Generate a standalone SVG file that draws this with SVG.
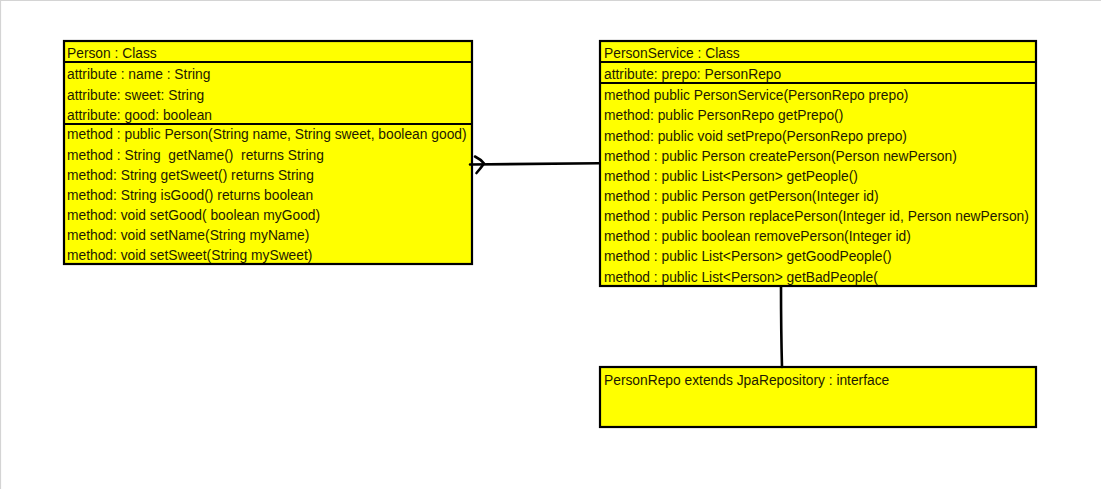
<svg xmlns="http://www.w3.org/2000/svg" width="1101" height="489" viewBox="0 0 1101 489">
<style>
.box{fill:#ffff00;stroke:#000;stroke-width:2.2}
.sep{stroke:#000;stroke-width:2.2}
.t{font-family:"Liberation Sans",Arial,sans-serif;font-size:13.8px;fill:#1e1a00}
.conn{fill:none;stroke:#000;stroke-width:2.6;stroke-linecap:round;stroke-linejoin:round}
</style>
<rect x="0" y="0" width="1101" height="489" fill="#fff"/>
<path d="M0.5 489V0.5H1101" fill="none" stroke="#d4d4d4" stroke-width="1.2"/>
<g id="person">
<rect class="box" x="64" y="41" width="408" height="223"/>
<line class="sep" x1="64" y1="62" x2="472" y2="62"/>
<line class="sep" x1="64" y1="124" x2="472" y2="124"/>
<text class="t" x="67" y="57.5">Person : Class</text>
<text class="t" x="67" y="78.5">attribute : name : String</text>
<text class="t" x="67" y="99.5">attribute: sweet: String</text>
<text class="t" x="67" y="119.5">attribute: good: boolean</text>
<text class="t" x="67" y="138.5">method : public Person(String name, String sweet, boolean good)</text>
<text class="t" x="67" y="159.5" xml:space="preserve">method : String  getName()  returns String</text>
<text class="t" x="67" y="179.5">method: String getSweet() returns String</text>
<text class="t" x="67" y="199.5">method: String isGood() returns boolean</text>
<text class="t" x="67" y="219.5">method: void setGood( boolean myGood)</text>
<text class="t" x="67" y="239.5">method: void setName(String myName)</text>
<text class="t" x="67" y="259.5">method: void setSweet(String mySweet)</text>
</g>
<g id="personService">
<rect class="box" x="600" y="41" width="436" height="245"/>
<line class="sep" x1="600" y1="62" x2="1036" y2="62"/>
<line class="sep" x1="600" y1="83" x2="1036" y2="83"/>
<text class="t" x="604" y="57.5">PersonService : Class</text>
<text class="t" x="604" y="78.5">attribute: prepo: PersonRepo</text>
<text class="t" x="604" y="99.5">method public PersonService(PersonRepo prepo)</text>
<text class="t" x="604" y="119.5">method: public PersonRepo getPrepo()</text>
<text class="t" x="604" y="140.5">method: public void setPrepo(PersonRepo prepo)</text>
<text class="t" x="604" y="160.5">method : public Person createPerson(Person newPerson)</text>
<text class="t" x="604" y="180.5">method : public List&lt;Person&gt; getPeople()</text>
<text class="t" x="604" y="200.5">method : public Person getPerson(Integer id)</text>
<text class="t" x="604" y="220.5">method : public Person replacePerson(Integer id, Person newPerson)</text>
<text class="t" x="604" y="240.5">method : public boolean removePerson(Integer id)</text>
<text class="t" x="604" y="260.5">method : public List&lt;Person&gt; getGoodPeople()</text>
<text class="t" x="604" y="281.5">method : public List&lt;Person&gt; getBadPeople(</text>
</g>
<g id="personRepo">
<rect class="box" x="600" y="367" width="436" height="60"/>
<text class="t" x="604" y="384.5">PersonRepo extends JpaRepository : interface</text>
</g>
<g id="connectors">
<path class="conn" d="M470 164.5 Q530 164 599 163.3"/>
<path class="conn" d="M475 156.5 Q481 159.5 484 163.5 Q480.5 168.5 476.5 173"/>
<path class="conn" d="M781 287 Q781 330 782 367"/>
</g>
</svg>
